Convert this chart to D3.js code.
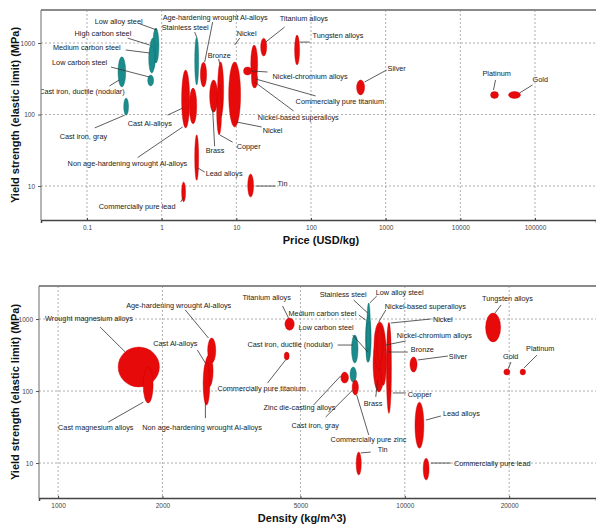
<!DOCTYPE html>
<html>
<head>
<meta charset="utf-8">
<script src="https://cdn.jsdelivr.net/npm/d3@7"></script>
<style>
body { margin: 0; background: #fff; }
svg text { font-family: "Liberation Sans", Arial, sans-serif; }
</style>
</head>
<body>
<svg width="596" height="525"></svg>
<script>
// ---------- top panel: price vs yield strength ----------
var priceNames = ["Low alloy steel", "High carbon steel", "Medium carbon steel", "Low carbon steel", "Stainless steel",
  "Cast iron, ductile (nodular)", "Cast iron, gray", "Cast Al-alloys", "Non age-hardening wrought Al-alloys",
  "Age-hardening wrought Al-alloys", "Bronze", "Brass", "Copper", "Lead alloys", "Commercially pure lead", "Tin",
  "Nickel", "Nickel-based superalloys", "Nickel-chromium alloys", "Commercially pure titanium", "Titanium alloys",
  "Tungsten alloys", "Silver", "Platinum", "Gold"];
var priceFerrous = [1, 1, 1, 1, 1, 1, 1, 0, 0, 0, 0, 0, 0, 0, 0, 0, 0, 0, 0, 0, 0, 0, 0, 0, 0];
var priceLo  = [0.76, 0.69, 0.67, 0.65, 2.77, 0.26, 0.31, 1.85, 2.35, 3.3, 5.62, 4.39, 5.45, 2.77, 1.85, 14.2, 7.9, 15.6, 12.5, 16, 21.2, 60.3, 408, 25400, 44200];
var priceHi  = [0.92, 0.83, 0.81, 0.78, 3.13, 0.33, 0.36, 2.37, 2.95, 4.0, 6.76, 5.62, 6.35, 3.13, 2.09, 17.0, 11.4, 19.3, 16.0, 19.3, 25.5, 70.3, 522, 32400, 64000];
var priceYsLo = [525, 419, 380, 251, 259, 243, 98, 65, 74, 243, 92, 108, 52, 12, 6.0, 7.0, 67, 276, 357, 235, 658, 493, 188, 168, 168];
var priceYsHi = [1620, 1170, 938, 357, 1210, 640, 170, 419, 235, 540, 542, 304, 259, 52, 11.4, 14.7, 542, 938, 461, 393, 1170, 1290, 304, 210, 210];

// label: text, text x, text y, leader from (x, y), leader to (x, y)
var priceLabels = [
  ["Low alloy steel", 0.127, 2030, 0.51, 1850, 0.86, 1520],
  ["High carbon steel", 0.068, 1380, 0.35, 1170, 0.69, 938],
  ["Medium carbon steel", 0.035, 880, 0.33, 798, 0.69, 725],
  ["Low carbon steel", 0.034, 542, 0.21, 461, 0.69, 334],
  ["Cast iron, ductile (nodular)", 0.32, 207, 0.20, 251, 0.27, 304, "end"],
  ["Cast iron, gray", 0.043, 50, 0.127, 65, 0.32, 98],
  ["Cast Al-alloys", 0.35, 76, 1.20, 98, 1.91, 123],
  ["Non age-hardening wrought Al-alloys", 0.055, 21, 0.477, 25, 1.91, 67],
  ["Age-hardening wrought Al-alloys", 1.03, 2310, 4.82, 1970, 3.77, 542],
  ["Stainless steel", 1.0, 1670, 2.77, 1420, 2.94, 1210],
  ["Bronze", 4.13, 680, 5.80, 600, 5.98, 510],
  ["Nickel", 10.1, 1380, 11.1, 1170, 9.49, 938],
  ["Titanium alloys", 38.0, 2170, 44.3, 1670, 24.7, 1030],
  ["Tungsten alloys", 105, 1290, 96, 1030, 70, 1030],
  ["Nickel-chromium alloys", 30.6, 345, 26.2, 393, 16.0, 406],
  ["Commercially pure titanium", 62.2, 150, 115, 182, 18.1, 314],
  ["Nickel-based superalloys", 19.3, 92, 58.5, 112, 17.6, 285],
  ["Nickel", 22.5, 59, 21.8, 67, 10.1, 78.5],
  ["Copper", 10.1, 36, 8.92, 41, 5.98, 52],
  ["Brass", 3.88, 31, 5.12, 36, 4.82, 116],
  ["Lead alloys", 3.88, 15.2, 3.77, 15.7, 3.03, 17.9],
  ["Tin", 35.7, 10.7, 18.1, 10, 33.6, 10],
  ["Commercially pure lead", 0.144, 5.2, 1.80, 6.0, 1.97, 7.0],
  ["Silver", 1060, 447, 1030, 419, 522, 285],
  ["Platinum", 19800, 380, 29600, 304, 27800, 220],
  ["Gold", 92700, 314, 92700, 259, 62000, 200]
];
var priceTicks = [0.1, 1, 10, 100, 1000, 10000, 100000];
var priceTickLabels = ["0.1", "1", "10", "100", "1000", "10000", "100000"];

// ---------- bottom panel: density vs yield strength ----------
var densNames = ["Wrought magnesium alloys", "Cast magnesium alloys", "Age-hardening wrought Al-alloys", "Cast Al-alloys",
  "Non age-hardening wrought Al-alloys", "Titanium alloys", "Commercially pure titanium", "Zinc die-casting alloys",
  "Cast iron, ductile (nodular)", "Cast iron, gray", "Commercially pure zinc", "Tin", "Stainless steel", "Low alloy steel",
  "High carbon steel", "Medium carbon steel", "Low carbon steel", "Brass", "Nickel-based superalloys", "Bronze",
  "Nickel-chromium alloys", "Copper", "Nickel", "Silver", "Lead alloys", "Commercially pure lead", "Tungsten alloys",
  "Gold", "Platinum"];
var densFerrous = [0, 0, 0, 0, 0, 0, 0, 0, 1, 1, 0, 0, 1, 1, 1, 1, 1, 0, 0, 0, 0, 0, 0, 0, 0, 0, 0, 0, 0];
var densLo  = [1490, 1760, 2700, 2650, 2620, 4510, 4490, 6540, 7020, 6950, 7050, 7240, 7700, 7780, 7750, 7750, 7750, 8100, 8150, 8500, 8300, 8850, 8900, 10350, 10700, 11300, 17100, 19300, 21500];
var densHi  = [1960, 1880, 2850, 2800, 2740, 4800, 4640, 6880, 7330, 7250, 7350, 7490, 8000, 7950, 7950, 7950, 7900, 8750, 8800, 8850, 8650, 9150, 9100, 10850, 11350, 11750, 18900, 20100, 22300];
var densYsLo = [114, 68, 245, 114, 64, 700, 270, 129, 245, 133, 88, 6.8, 253, 500, 350, 300, 250, 97, 200, 120, 250, 49, 100, 183, 16, 5.8, 480, 167, 167];
var densYsHi = [408, 215, 545, 316, 253, 1030, 348, 183, 600, 215, 142, 14.2, 1100, 1670, 1100, 900, 400, 600, 910, 600, 800, 880, 900, 297, 70, 11.7, 1210, 202, 202];

var densLabels = [
  ["Wrought magnesium alloys", 917, 1032, 1322, 774, 1562, 348],
  ["Cast magnesium alloys", 1000, 31.6, 1395, 37, 1761, 70],
  ["Non age-hardening wrought Al-alloys", 1749, 31.6, 2660, 42, 2660, 70],
  ["Cast Al-alloys", 1882, 464, 2522, 371, 2660, 245],
  ["Age-hardening wrought Al-alloys", 1572, 1564, 2328, 1334, 2714, 545],
  ["Titanium alloys", 3402, 2021, 4441, 1515, 4620, 1032],
  ["Medium carbon steel", 4620, 1211, 7362, 1137, 7714, 968],
  ["Stainless steel", 5680, 2224, 7120, 1835, 7818, 1211],
  ["Low alloy steel", 8245, 2371, 8300, 2085, 7922, 1667],
  ["Nickel-based superalloys", 8754, 1515, 8813, 1334, 8412, 908],
  ["Nickel", 12050, 1000, 11890, 1000, 9111, 880],
  ["Low carbon steel", 4939, 774, 7073, 600, 7818, 348],
  ["Cast iron, ductile (nodular)", 3517, 450, 6403, 435, 7073, 435],
  ["Nickel-chromium alloys", 9482, 600, 10067, 495, 8813, 435],
  ["Bronze", 10407, 383, 10202, 348, 8931, 348],
  ["Silver", 13400, 306, 13311, 306, 10903, 270],
  ["Commercially pure titanium", 2881, 107, 4018, 129, 4530, 270],
  ["Zinc die-casting alloys", 3913, 60, 5458, 64, 6531, 162],
  ["Cast iron, gray", 4714, 33.7, 5911, 43.5, 7073, 103],
  ["Commercially pure zinc", 6110, 21.5, 7870, 24.5, 7265, 88],
  ["Tin", 8356, 15.2, 7974, 14.2, 7461, 13.8],
  ["Lead alloys", 12877, 49, 12706, 45, 11501, 39.5],
  ["Commercially pure lead", 13854, 10, 11890, 10, 13580, 10],
  ["Copper", 10202, 91, 10067, 94, 9233, 94],
  ["Brass", 7612, 68, 8245, 83, 8356, 142],
  ["Tungsten alloys", 16694, 1958, 18950, 1564, 18200, 1211],
  ["Gold", 19200, 306, 20250, 253, 19850, 202],
  ["Platinum", 22370, 396, 24070, 316, 22070, 209]
];
var densTicks = [1000, 2000, 5000, 10000, 20000];
var densTickLabels = ["1000", "2000", "5000", "10000", "20000"];

var strengthTicks = [10, 100, 1000];
var strengthTickLabels = ["10", "100", "1000"];

var RED = "#e60a0a", TEAL = "#1b8b8b";

var svg = d3.select("svg");

function minorTicks(domain) {
  var out = [];
  var lo = Math.floor(Math.log10(domain[0])), hi = Math.ceil(Math.log10(domain[1]));
  for (var e = lo; e <= hi; e++)
    for (var k = 1; k < 10; k++) {
      var v = k * Math.pow(10, e);
      if (v >= domain[0] && v <= domain[1]) out.push(v);
    }
  return out;
}

function panel(o) {
  var x = d3.scaleLog().domain(o.xDomain).range(o.xRange);
  var y = d3.scaleLog().domain(o.yDomain).range(o.yRange);
  var g = svg.append("g");

  g.append("clipPath").attr("id", o.id)
    .append("rect")
    .attr("x", o.xRange[0]).attr("y", o.yRange[1])
    .attr("width", o.xRange[1] - o.xRange[0]).attr("height", o.yRange[0] - o.yRange[1]);

  // grid
  g.selectAll(".vg").data(o.xTicks).enter().append("line")
    .attr("x1", d => x(d)).attr("x2", d => x(d))
    .attr("y1", o.yRange[1]).attr("y2", o.yRange[0])
    .attr("stroke", "#9a9a9a").attr("stroke-width", 0.8).attr("stroke-dasharray", "2,2");
  g.selectAll(".hg").data(strengthTicks).enter().append("line")
    .attr("x1", o.xRange[0]).attr("x2", o.xRange[1])
    .attr("y1", d => y(d)).attr("y2", d => y(d))
    .attr("stroke", "#9a9a9a").attr("stroke-width", 0.8).attr("stroke-dasharray", "2,2");

  var plot = g.append("g").attr("clip-path", "url(#" + o.id + ")");

  // material bubbles: ellipse spanning the property ranges in log space
  plot.selectAll("ellipse").data(o.names).enter().append("ellipse")
    .attr("cx", (d, i) => (x(o.lo[i]) + x(o.hi[i])) / 2)
    .attr("cy", (d, i) => (y(o.ylo[i]) + y(o.yhi[i])) / 2)
    .attr("rx", (d, i) => (x(o.hi[i]) - x(o.lo[i])) / 2)
    .attr("ry", (d, i) => (y(o.ylo[i]) - y(o.yhi[i])) / 2)
    .attr("fill", (d, i) => o.ferrous[i] ? TEAL : RED)
    .attr("stroke", (d, i) => o.ferrous[i] ? "#0f6d6d" : "#c80000")
    .attr("stroke-width", 0.4);

  plot.selectAll(".lead").data(o.labels).enter().append("line")
    .attr("x1", d => x(d[3])).attr("y1", d => y(d[4]))
    .attr("x2", d => x(d[5])).attr("y2", d => y(d[6]))
    .attr("stroke", "#333").attr("stroke-width", 0.8);

  plot.selectAll(".lab").data(o.labels).enter().append("text")
    .attr("x", d => x(d[1])).attr("y", d => y(d[2]))
    .attr("dy", "0.35em")
    .attr("text-anchor", d => d[7] || "start")
    .attr("font-size", 7.3).attr("fill", "#1a1a1a")
    .text(d => d[0]);

  // frame
  g.append("line").attr("x1", o.xRange[0]).attr("x2", o.xRange[1])
    .attr("y1", o.yRange[1]).attr("y2", o.yRange[1])
    .attr("stroke", "#8a8a8a").attr("stroke-width", 2);
  g.append("line").attr("x1", o.xRange[0]).attr("x2", o.xRange[0])
    .attr("y1", o.yRange[1]).attr("y2", o.yRange[0])
    .attr("stroke", "#6a6a6a").attr("stroke-width", 1);

  // x axis
  var xa = g.append("g").attr("transform", "translate(0," + o.yRange[0] + ")");
  xa.call(d3.axisBottom(x).tickValues(minorTicks(o.xDomain)).tickSize(2).tickFormat(""));
  xa.call(d3.axisBottom(x).tickValues(o.xTicks).tickSize(3)
    .tickFormat((d, i) => o.xTickLabels[i]));
  xa.selectAll(".domain").attr("stroke", "#444").attr("stroke-width", 1.5);
  xa.selectAll("line").attr("stroke", "#444").attr("transform", "translate(0,-2)");
  xa.selectAll("text").attr("font-size", 6.5).attr("fill", "#444").attr("y", 5);

  // y axis
  var ya = g.append("g").attr("transform", "translate(" + o.xRange[0] + ",0)");
  ya.call(d3.axisLeft(y).tickValues(minorTicks(o.yDomain)).tickSize(2).tickFormat(""));
  ya.call(d3.axisLeft(y).tickValues(strengthTicks).tickSize(3)
    .tickFormat((d, i) => strengthTickLabels[i]));
  ya.selectAll(".domain").remove();
  ya.selectAll("line").attr("stroke", "#555");
  ya.selectAll("text").attr("font-size", 6.5).attr("fill", "#444");

  g.append("text")
    .attr("x", o.xTitleX).attr("y", o.yRange[0] + 24)
    .attr("text-anchor", "middle").attr("font-size", 11).attr("font-weight", "bold").attr("fill", "#111")
    .text(o.xTitle);
  g.append("text")
    .attr("transform", "translate(19," + (o.yRange[0] + o.yRange[1]) / 2 + ") rotate(-90)")
    .attr("text-anchor", "middle").attr("font-size", 11).attr("font-weight", "bold").attr("fill", "#111")
    .text("Yield strength (elastic limit) (MPa)");
}

panel({
  id: "clipTop",
  xDomain: [0.0242, 656000], xRange: [41, 596],
  yDomain: [3.35, 2894], yRange: [220, 10],
  names: priceNames, ferrous: priceFerrous, lo: priceLo, hi: priceHi, ylo: priceYsLo, yhi: priceYsHi,
  labels: priceLabels, xTicks: priceTicks, xTickLabels: priceTickLabels,
  xTitle: "Price (USD/kg)", xTitleX: 321
});

panel({
  id: "clipBottom",
  xDomain: [881, 35600], xRange: [39, 596],
  yDomain: [3.27, 2873], yRange: [498, 286],
  names: densNames, ferrous: densFerrous, lo: densLo, hi: densHi, ylo: densYsLo, yhi: densYsHi,
  labels: densLabels, xTicks: densTicks, xTickLabels: densTickLabels,
  xTitle: "Density (kg/m^3)", xTitleX: 302
});
</script>
</body>
</html>
